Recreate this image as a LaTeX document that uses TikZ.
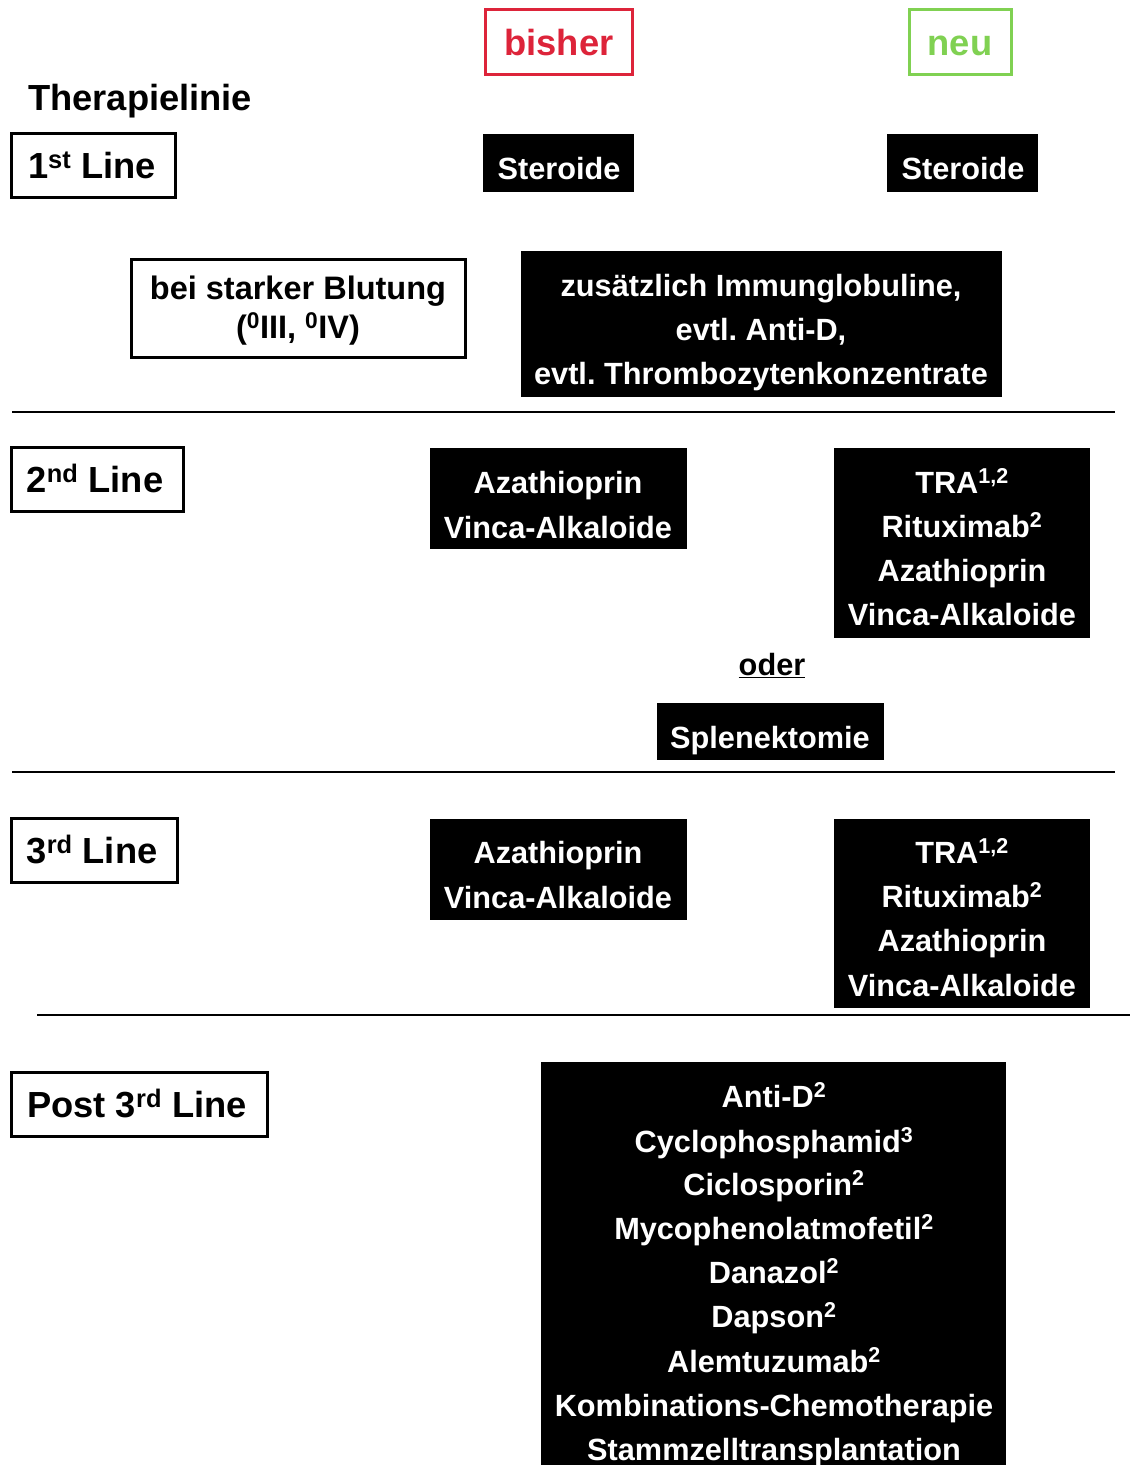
\documentclass[tikz,border=0pt]{standalone}
\usepackage{fontspec}
\setmainfont{Liberation Sans}
\usetikzlibrary{fit}
\definecolor{redc}{RGB}{221,36,58}
\definecolor{greenc}{RGB}{128,209,82}
\frenchspacing
\begin{document}
\begin{tikzpicture}[x=1pt,y=-1pt,
  blk/.style={fill=black,draw=none,inner sep=0pt},
  wbox/.style={draw=black,line width=3pt,fill=white,inner sep=0pt},
  wt/.style={text=white,font=\fontsize{30.7}{36}\selectfont\bfseries,anchor=base,inner sep=0pt},
  bt/.style={text=black,font=\fontsize{32.5}{36}\selectfont\bfseries,anchor=base,inner sep=0pt},
  lt/.style={text=black,font=\fontsize{36.3}{40}\selectfont\bfseries,anchor=base,inner sep=0pt},
  sepline/.style={line width=1.5pt,draw=black}]
\useasboundingbox (0,0) rectangle (1130,1465);

% header
\node[wbox,draw=redc,fit={(485,9) (632,74)}] (hb) {};
\node[lt,text=redc] (hbt) at (559,55) {bisher};
\node[wbox,draw=greenc,fit={(909,9) (1011,74)}] (hn) {};
\node[lt,text=greenc] (hnt) at (960,55) {neu};
\node[lt,anchor=base west] (tl) at (28,110) {Therapielinie};

% 1st line
\node[wbox,fit={(11,133) (175,197)}] (l1) {};
\node[lt] (l1t) at (92,178) {1\textsuperscript{st} Line};
\node[blk,fit={(483,134) (634,192)}] (s1) {};
\node[wt] (s1t) at (559,179) {Steroide};
\node[blk,fit={(887,134) (1038,192)}] (s2) {};
\node[wt] (s2t) at (963,179) {Steroide};
\node[wbox,fit={(131,259) (465,357)}] (bl) {};
\node[bt] (bl1) at (298,299) {bei starker Blutung};
\node[bt] (bl2) at (298,338) {(\textsuperscript{0}III, \textsuperscript{0}IV)};
\node[blk,fit={(521,251) (1002,397)}] (zi) {};
\node[wt] (zi1) at (761,296) {zusätzlich Immunglobuline,};
\node[wt] (zi2) at (761,340) {evtl. Anti-D,};
\node[wt] (zi3) at (761,384) {evtl. Thrombozytenkonzentrate};

\coordinate (a1) at (12,412); \coordinate (b1) at (1115,412);
\draw[sepline] (a1) -- (b1);

% 2nd line
\node[wbox,fit={(11,447) (183,511)}] (l2) {};
\node[lt] (l2t) at (95,492) {2\textsuperscript{nd} Line};
\node[blk,fit={(430,448) (687,549)}] (a2) {};
\node[wt] (a2a) at (558,493) {Azathioprin};
\node[wt] (a2b) at (558,538) {Vinca-Alkaloide};
\node[blk,fit={(834,448) (1090,638)}] (t2) {};
\node[wt] (t2a) at (962,493) {TRA\textsuperscript{1,2}};
\node[wt] (t2b) at (962,537) {Rituximab\textsuperscript{2}};
\node[wt] (t2c) at (962,581) {Azathioprin};
\node[wt] (t2d) at (962,625) {Vinca-Alkaloide};
\node[bt,font=\fontsize{30.7}{36}\selectfont\bfseries] (od) at (772,675) {\underline{oder}};
\node[blk,fit={(657,703) (884,760)}] (sp) {};
\node[wt] (spt) at (770,748) {Splenektomie};

\coordinate (a2l) at (12,772); \coordinate (b2l) at (1115,772);
\draw[sepline] (a2l) -- (b2l);

% 3rd line
\node[wbox,fit={(11,818) (177,882)}] (l3) {};
\node[lt] (l3t) at (92,863) {3\textsuperscript{rd} Line};
\node[blk,fit={(430,819) (687,920)}] (a3) {};
\node[wt] (a3a) at (558,863) {Azathioprin};
\node[wt] (a3b) at (558,908) {Vinca-Alkaloide};
\node[blk,fit={(834,819) (1090,1008)}] (t3) {};
\node[wt] (t3a) at (962,863) {TRA\textsuperscript{1,2}};
\node[wt] (t3b) at (962,907) {Rituximab\textsuperscript{2}};
\node[wt] (t3c) at (962,951) {Azathioprin};
\node[wt] (t3d) at (962,996) {Vinca-Alkaloide};

\coordinate (a3l) at (37,1015); \coordinate (b3l) at (1130,1015);
\draw[sepline] (a3l) -- (b3l);

% post 3rd line
\node[wbox,fit={(11,1072) (267,1136)}] (l4) {};
\node[lt] (l4t) at (137,1117) {Post 3\textsuperscript{rd} Line};
\node[blk,fit={(541,1062) (1006,1470)}] (pb) {};
\node[wt] (p1) at (774,1107) {Anti-D\textsuperscript{2}};
\node[wt] (p2) at (774,1152) {Cyclophosphamid\textsuperscript{3}};
\node[wt] (p3) at (774,1195) {Ciclosporin\textsuperscript{2}};
\node[wt] (p4) at (774,1239) {Mycophenolatmofetil\textsuperscript{2}};
\node[wt] (p5) at (774,1283) {Danazol\textsuperscript{2}};
\node[wt] (p6) at (774,1327) {Dapson\textsuperscript{2}};
\node[wt] (p7) at (774,1372) {Alemtuzumab\textsuperscript{2}};
\node[wt] (p8) at (774,1416) {Kombinations-Chemotherapie};
\node[wt] (p9) at (774,1460) {Stammzelltransplantation};
\end{tikzpicture}
\end{document}
